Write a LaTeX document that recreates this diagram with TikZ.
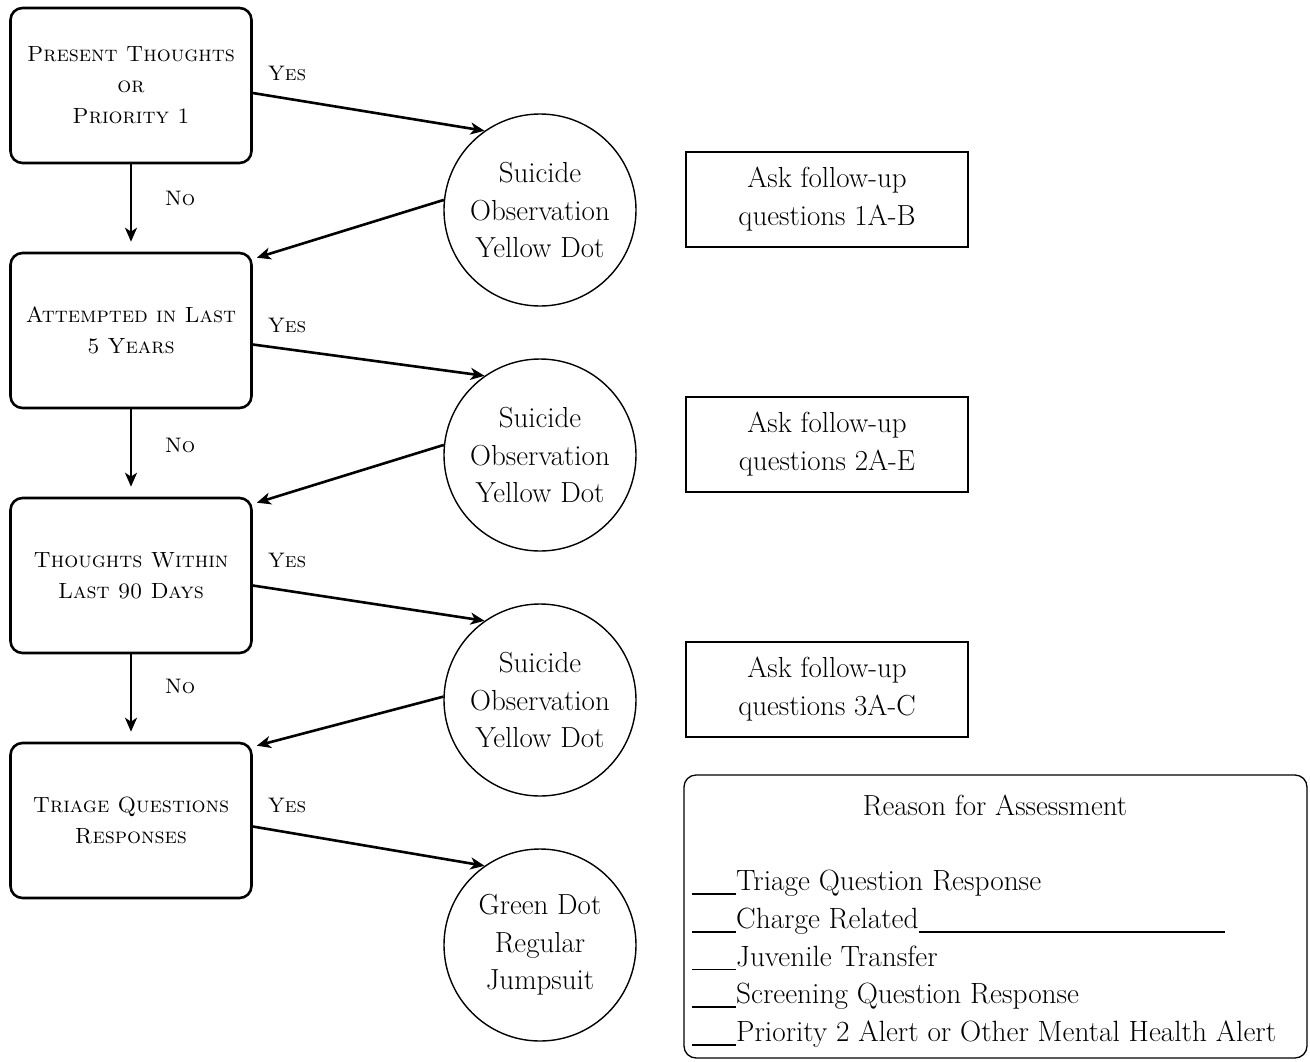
\documentclass[tikz,border=0pt]{standalone}
\usetikzlibrary{arrows.meta,calc}
\newcommand{\blank}[1]{\rule[-4pt]{#1}{1.6pt}}
\tikzset{
  qbox/.style={draw, line width=2.6pt, rounded corners=12pt, minimum width=241pt, minimum height=155pt, align=center, font=\fontsize{22}{31}\selectfont\scshape, inner sep=2pt},
  obs/.style={draw, circle, line width=1.4pt, minimum size=192pt, align=center, font=\fontsize{29}{37.5}\selectfont, inner sep=0pt},
  ask/.style={draw, line width=1.3pt, minimum width=282pt, minimum height=95pt, align=center, font=\fontsize{29}{38}\selectfont},
  lbl/.style={font=\fontsize{21}{24}\selectfont\scshape},
  arr/.style={line width=2.6pt, -{Stealth[length=14pt,width=12pt,inset=4pt]}}
}
\begin{document}
\begin{tikzpicture}[x=1pt,y=-1pt]
\useasboundingbox (0,0) rectangle (1310,1061);
% question boxes
\node[qbox] (b1) at (131,85.5) {Present Thoughts\\or\\Priority 1};
\node[qbox] (b2) at (131,330.5) {Attempted in Last\\5 Years};
\node[qbox] (b3) at (131,575.5) {Thoughts Within\\Last 90 Days};
\node[qbox] (b4) at (131,820.5) {Triage Questions\\Responses};
% circles
\node[obs] (c1) at (540,210) {Suicide\\Observation\\Yellow Dot};
\node[obs] (c2) at (540,455) {Suicide\\Observation\\Yellow Dot};
\node[obs] (c3) at (540,700) {Suicide\\Observation\\Yellow Dot};
\node[obs] (c4) at (540,945) {Green Dot\\Regular\\Jumpsuit};
% ask boxes
\node[ask] (a1) at (827,199.5) {Ask follow-up\\questions 1A-B};
\node[ask] (a2) at (827,444.5) {Ask follow-up\\questions 2A-E};
\node[ask] (a3) at (827,689.5) {Ask follow-up\\questions 3A-C};
% reason box
\node[draw, line width=1.3pt, rounded corners=12pt, minimum width=623pt, minimum height=283pt] (r) at (995.5,916.5) {};
\node[font=\fontsize{29}{34}\selectfont] (rt) at (995,805) {Reason for Assessment};
\node[anchor=west, align=left, font=\fontsize{29.3}{37.7}\selectfont, inner sep=0pt] (rl) at (692,959)
 {\blank{44pt}Triage Question Response\\
  \blank{44pt}Charge Related\blank{306pt}\\
  \blank{44pt}Juvenile Transfer\\
  \blank{44pt}Screening Question Response\\
  \blank{44pt}Priority 2 Alert or Other Mental Health Alert};
% yes arrows
\draw[arr] ([yshift=-7.5pt]b1.east) -- (c1.125);
\draw[arr] ([yshift=-14pt]b2.east) -- (c2.125);
\draw[arr] ([yshift=-10pt]b3.east) -- (c3.125);
\draw[arr] ([yshift=-6pt]b4.east) -- (c4.125);
% return arrows
\draw[arr] (c1.174) -- ([xshift=4pt,yshift=-6pt]b2.north east);
\draw[arr] (c2.174) -- ([xshift=4pt,yshift=-6pt]b3.north east);
\draw[arr] (c3.178) -- ([xshift=4pt,yshift=-4pt]b4.north east);
% no arrows
\draw[arr] (b1.south) -- ([yshift=10pt]b2.north);
\draw[arr] (b2.south) -- ([yshift=10pt]b3.north);
\draw[arr] (b3.south) -- ([yshift=10pt]b4.north);
% labels
\node[lbl] (y1) at (287,73) {Yes};
\node[lbl] (y2) at (287,325) {Yes};
\node[lbl] (y3) at (287,560) {Yes};
\node[lbl] (y4) at (287,805) {Yes};
\node[lbl] (n1) at (180,198) {No};
\node[lbl] (n2) at (180,445) {No};
\node[lbl] (n3) at (180,686) {No};
\end{tikzpicture}
\end{document}
